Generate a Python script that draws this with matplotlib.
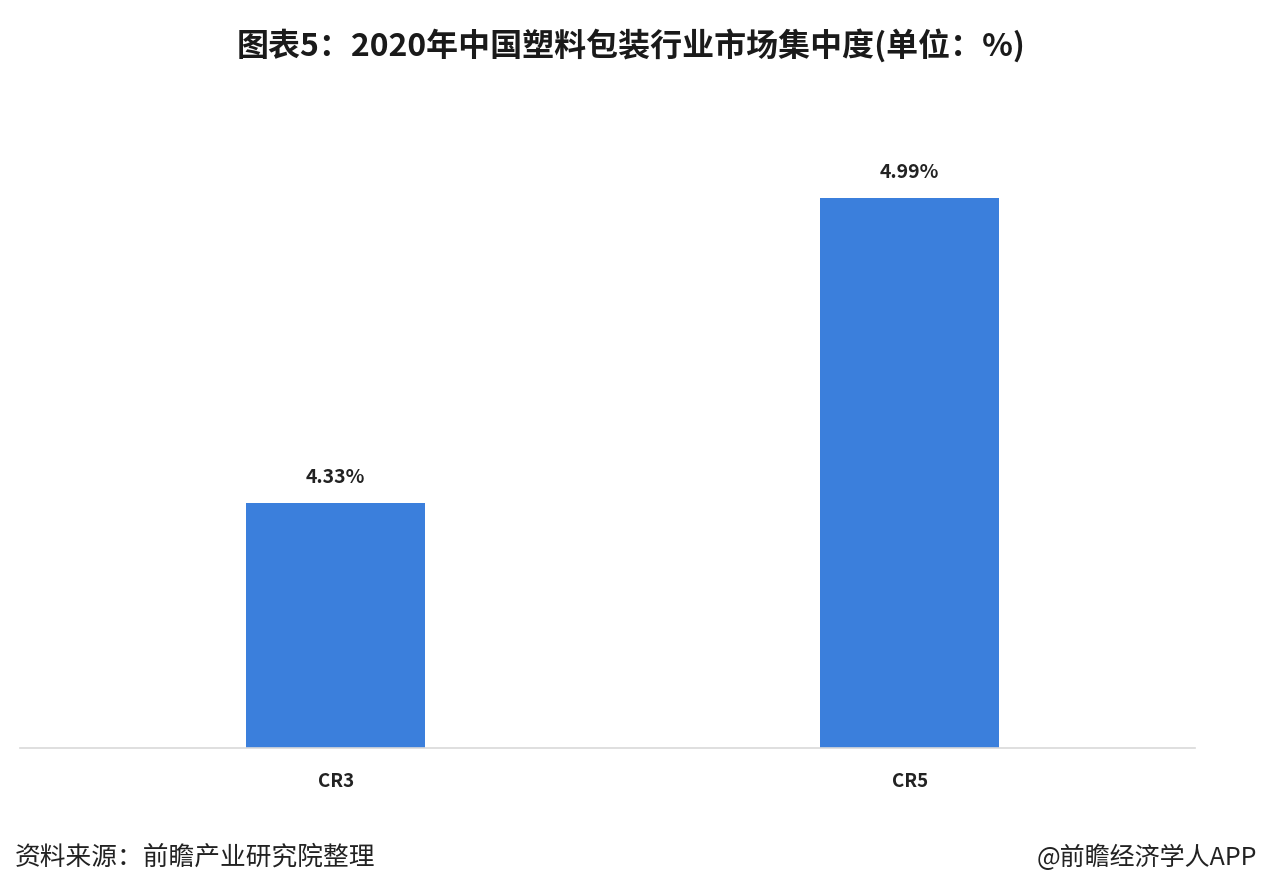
import matplotlib
matplotlib.use("Agg")
import matplotlib.pyplot as plt

plt.rcParams['font.family'] = ['Noto Sans CJK SC', 'DejaVu Sans']

categories = ["CR3", "CR5"]
values = [4.33, 4.99]
value_labels = ["4.33%", "4.99%"]
title = "图表5：2020年中国塑料包装行业市场集中度(单位：%)"
source = "资料来源：前瞻产业研究院整理"
credit = "@前瞻经济学人APP"

fig = plt.figure(figsize=(12.62, 8.96), dpi=100)
fig.patch.set_facecolor("white")
ax = fig.add_axes([0.0158, 0.1652, 0.9312, 0.67])

x = list(range(len(categories)))
bars = ax.bar(x, values, width=0.312, color="#3b7fdc", bottom=0)
ax.set_ylim(3.8, 5.1)
ax.set_xlim(-0.55, 1.497)

for xi, v, lab in zip(x, values, value_labels):
    ax.annotate(lab, (xi, v), xytext=(0, 12), textcoords="offset points",
                ha="center", va="bottom", fontsize=14, fontweight="bold", color="#222222")

ax.set_xticks(x)
ax.set_xticklabels(categories, fontsize=13.5, fontweight="bold", color="#222222")
ax.tick_params(axis="x", length=0, pad=17)
ax.set_yticks([])
for s in ["top", "right", "left"]:
    ax.spines[s].set_visible(False)
ax.spines["bottom"].set_color("#d9d9d9")
ax.spines["bottom"].set_linewidth(1.2)

fig.text(0.5, 0.949, title, ha="center", va="center", fontsize=23, fontweight="bold", color="#1a1a1a")
fig.text(0.012, 0.043, source, ha="left", va="center", fontsize=18.5, color="#222222")
fig.text(0.996, 0.043, credit, ha="right", va="center", fontsize=18, color="#222222")

fig.savefig("out.png", dpi=100)
